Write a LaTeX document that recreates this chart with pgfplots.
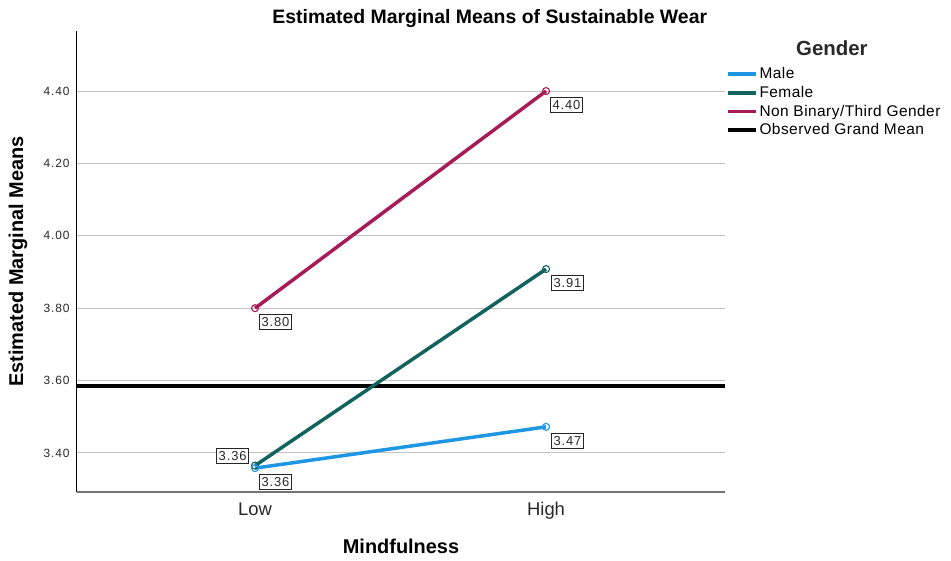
\documentclass[border=0pt]{standalone}
\usepackage{fontspec}
\setmainfont{Liberation Sans}
\newfontfamily\spaced[LetterSpace=7]{Liberation Sans}
\newfontfamily\spacedl[LetterSpace=3]{Liberation Sans}
\usepackage{pgfplots}
\pgfplotsset{compat=1.18}
\definecolor{male}{RGB}{30,150,228}
\definecolor{female}{RGB}{18,99,94}
\definecolor{nb}{RGB}{168,26,88}
\definecolor{gridc}{RGB}{195,195,195}
\definecolor{txt}{RGB}{40,40,40}
\begin{document}
\begin{tikzpicture}
\useasboundingbox (-77bp,-69bp) rectangle (874bp,492bp);
\begin{axis}[
  at={(0,0)}, anchor=south west,
  scale only axis, width=648bp, height=461bp,
  xmin=-0.612, xmax=1.615, ymin=3.292, ymax=4.566,
  axis x line*=bottom, axis y line*=left,
  x axis line style={draw=black!55, line width=1.6bp, -},
  y axis line style={draw=black, line width=1bp, -},
  xtick={0,1}, xticklabels={Low,High},
  ytick={3.4,3.6,3.8,4.0,4.2,4.4},
  /pgf/number format/assume math mode=true,
  /pgf/number format/fixed, /pgf/number format/fixed zerofill, /pgf/number format/precision=2,
  yticklabel style={font=\spaced\fontsize{12}{14}\selectfont, text=txt, xshift=-4bp},
  xticklabel style={font=\fontsize{18.5}{20}\selectfont, text=txt, yshift=-7bp},
  ymajorgrids, grid style={gridc, line width=0.9bp},
  major tick length=0pt,
  xlabel={\bfseries Mindfulness},
  ylabel={\bfseries Estimated Marginal Means},
  xlabel style={at={(axis description cs:0.5,-0.117)}, anchor=center, font=\fontsize{20}{22}\selectfont},
  ylabel style={at={(axis description cs:-0.091,0.5)}, anchor=center, font=\fontsize{20}{22}\selectfont},
  legend style={at={(axis description cs:1,1)}, anchor=north west, xshift=1bp, yshift=-35bp,
    draw=none, fill=none, font=\spacedl\fontsize{15.5}{17}\selectfont, inner sep=0pt,
    row sep=3bp, nodes={inner sep=1.5bp, text=black}},
  legend cell align=left,
  legend image code/.code={\draw[#1, line width=3.8bp] (0bp,0bp) -- (28bp,0bp);},
  clip=false,
]
\addlegendimage{male}
\addlegendentry{Male}
\addlegendimage{female}
\addlegendentry{Female}
\addlegendimage{nb}
\addlegendentry{Non Binary/Third Gender}
\addlegendimage{black}
\addlegendentry{Observed Grand Mean}

\addplot[black, line width=3.5bp, forget plot] coordinates {(-0.612,3.585) (1.615,3.585)};
\addplot[nb, line width=3.5bp, mark=o, mark size=3.5bp, mark options={line width=1.1bp, fill=white}, forget plot] coordinates {(0,3.80) (1,4.40)};
\addplot[female, line width=3.5bp, mark=o, mark size=3.5bp, mark options={line width=1.1bp, fill=white}, forget plot] coordinates {(0,3.365) (1,3.908)};
\addplot[male, line width=3.5bp, mark=o, mark size=3.5bp, mark options={line width=1.1bp, fill=white}, forget plot] coordinates {(0,3.358) (1,3.472)};

\tikzset{lab/.style={draw=black!85, line width=0.9bp, fill=white, inner xsep=2bp, inner ysep=3bp, text=txt, font=\spaced\fontsize{13}{14}\selectfont}}
\node[lab, anchor=north west, xshift=4bp, yshift=-6bp] at (axis cs:1,4.40) {4.40};
\node[lab, anchor=north west, xshift=4bp, yshift=-6bp] at (axis cs:0,3.80) {3.80};
\node[lab, anchor=north west, xshift=5bp, yshift=-6bp] at (axis cs:1,3.908) {3.91};
\node[lab, anchor=north west, xshift=5bp, yshift=-6bp] at (axis cs:1,3.472) {3.47};
\node[lab, anchor=north west, xshift=4bp, yshift=-6bp] at (axis cs:0,3.358) {3.36};
\node[lab, anchor=south east, xshift=-6bp, yshift=2bp] at (axis cs:0,3.365) {3.36};

\node[font=\fontsize{20.5}{22}\selectfont\bfseries, text=txt, anchor=center] at (axis description cs:1.165,0.963) {Gender};
\node[font=\fontsize{19.5}{21}\selectfont\bfseries, text=black, anchor=center] at (axis description cs:0.637,1.026) {Estimated Marginal Means of Sustainable Wear};
\end{axis}
\end{tikzpicture}
\end{document}
